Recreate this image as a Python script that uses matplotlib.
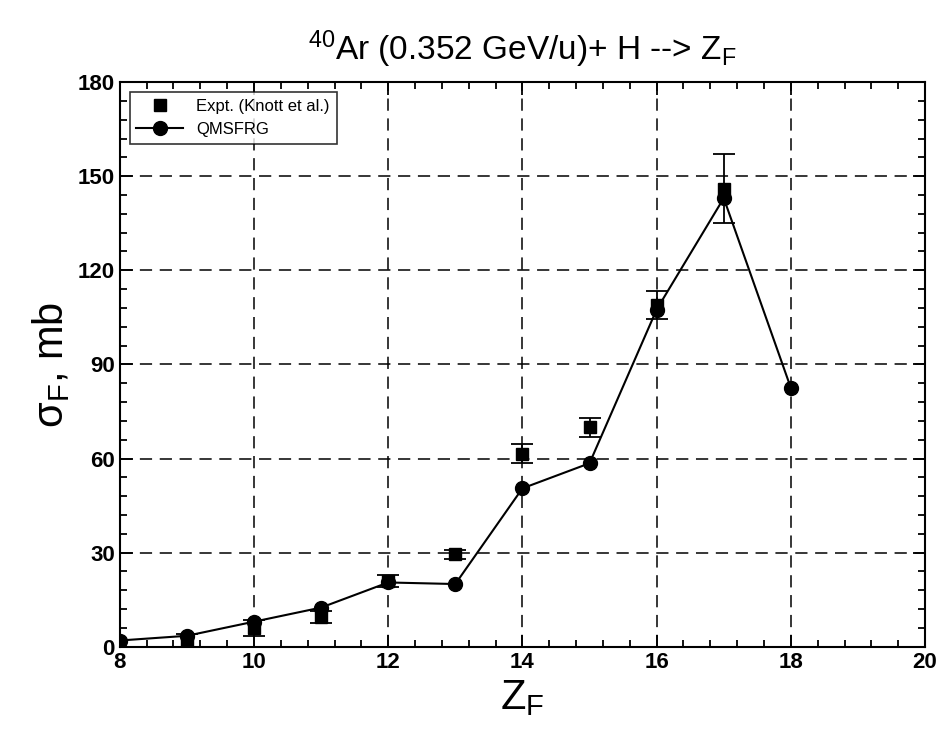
import numpy as np
import matplotlib.pyplot as plt
from matplotlib.ticker import MultipleLocator
from matplotlib.lines import Line2D

plt.rcParams['font.family'] = ['Liberation Sans', 'DejaVu Sans']
plt.rcParams['mathtext.fontset'] = 'custom'
plt.rcParams['mathtext.rm'] = 'Liberation Sans'
plt.rcParams['mathtext.it'] = 'Liberation Sans'

# QMSFRG calculation
z_calc = [8, 9, 10, 11, 12, 13, 14, 15, 16, 17, 18]
sigma_calc = [2.0, 3.5, 8.0, 12.5, 20.5, 20.0, 50.5, 58.5, 107.5, 143.0, 82.5]

# Experiment (Knott et al.)
z_exp = [9, 10, 11, 12, 13, 14, 15, 16, 17]
sigma_exp = [2.0, 6.0, 9.5, 21.0, 29.5, 61.5, 70.0, 109.0, 146.0]
err_exp = [2.0, 2.5, 2.0, 2.0, 1.5, 3.0, 3.0, 4.5, 11.0]

fig = plt.figure(figsize=(9.43, 7.46), dpi=100)
ax = fig.add_axes([0.127, 0.133, 0.854, 0.757])

ax.errorbar(z_exp, sigma_exp, yerr=err_exp, fmt='s', color='black', ms=9,
            capsize=8, elinewidth=1.3, capthick=1.3, zorder=3)
ax.plot(z_calc, sigma_calc, '-o', color='black', ms=10, lw=1.5, zorder=4)

ax.set_xlim(8, 20)
ax.set_ylim(0, 180)
ax.xaxis.set_major_locator(MultipleLocator(2))
ax.xaxis.set_minor_locator(MultipleLocator(0.4))
ax.yaxis.set_major_locator(MultipleLocator(30))
ax.yaxis.set_minor_locator(MultipleLocator(6))
ax.tick_params(which='both', direction='in', top=True, right=True, width=1.3)
ax.tick_params(which='major', length=9, labelsize=16)
ax.tick_params(which='minor', length=5)
for lab in ax.get_xticklabels() + ax.get_yticklabels():
    lab.set_fontweight('bold')
for s in ax.spines.values():
    s.set_linewidth(1.5)

ax.grid(True, which='major', color='black', linestyle=(0, (8, 5)), linewidth=1.1)

ax.set_title('$^{40}$Ar (0.352 GeV/u)+ H --> Z$_F$', fontsize=24, pad=16)
ax.set_xlabel('Z$_F$', fontsize=30)
ax.set_ylabel('σ$_F$, mb', fontsize=30)

handles = [Line2D([], [], marker='s', ls='none', color='black', ms=9),
           Line2D([], [], marker='o', ls='-', color='black', ms=10, lw=1.5)]
leg = ax.legend(handles, ['Expt. (Knott et al.)', 'QMSFRG'], loc='upper left',
                fontsize=12, frameon=True, fancybox=False, edgecolor='black',
                borderaxespad=0.6, handlelength=2.8, labelspacing=0.5)
leg.get_frame().set_linewidth(1.2)

fig.savefig('out.png', dpi=100)
